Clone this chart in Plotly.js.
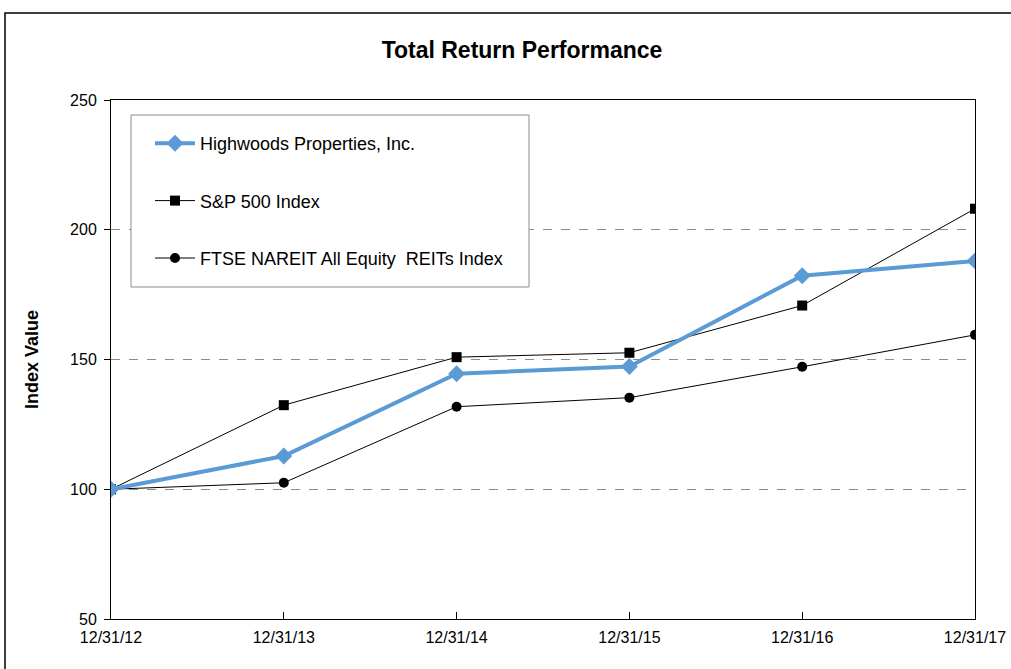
<!DOCTYPE html>
<html>
<head>
<meta charset="utf-8">
<script src="https://cdn.plot.ly/plotly-3.0.1.min.js"></script>
<style>html,body{margin:0;padding:0;background:#fff;}#chart{width:1011px;height:669px;}</style>
</head>
<body>
<div id="chart"></div>
<script>
var dates = ["12/31/12", "12/31/13", "12/31/14", "12/31/15", "12/31/16", "12/31/17"];
var highwoods = [100, 112.8, 144.5, 147.3, 182.3, 188.0];
var sp500 = [100, 132.4, 150.9, 152.6, 170.8, 208.1];
var ftse = [100, 102.5, 131.8, 135.3, 147.2, 159.5];
var seriesNames = ["Highwoods Properties, Inc.", "S&P 500 Index", "FTSE NAREIT All Equity  REITs Index"];
var yTicks = [50, 100, 150, 200, 250];

var FONT = "Liberation Sans, Arial, sans-serif";

var traces = [
  {x: dates, y: sp500, name: seriesNames[1], type: "scatter", mode: "lines+markers",
   line: {color: "#000000", width: 1}, marker: {symbol: "square", size: 10, color: "#000000"},
   legendgroup: "b", legendrank: 2},
  {x: dates, y: ftse, name: seriesNames[2], type: "scatter", mode: "lines+markers",
   line: {color: "#000000", width: 1}, marker: {symbol: "circle", size: 10, color: "#000000"},
   legendgroup: "c", legendrank: 3},
  {x: dates, y: highwoods, name: seriesNames[0], type: "scatter", mode: "lines+markers",
   line: {color: "#5B9BD5", width: 4}, marker: {symbol: "diamond", size: 13, color: "#5B9BD5"},
   legendgroup: "a", legendrank: 1}
];

var layout = {
  width: 1011, height: 669,
  margin: {l: 111, r: 36, t: 100, b: 50},
  paper_bgcolor: "#ffffff", plot_bgcolor: "#ffffff",
  font: {family: FONT, color: "#000000", size: 16},
  title: {text: "<b>Total Return Performance</b>", font: {family: FONT, size: 23, color: "#000000"},
          x: 522/1011, xanchor: "center", y: 1 - 50/669, yanchor: "middle", xref: "container", yref: "container"},
  xaxis: {type: "category", range: [0, 5], showline: true, linecolor: "#000000", linewidth: 1, mirror: true,
          ticks: "inside", ticklen: 7, tickcolor: "#000000", showgrid: false, zeroline: false, ticklabelstandoff: 4,
          tickfont: {family: FONT, size: 16, color: "#000000"}, fixedrange: true},
  yaxis: {range: [50, 250], tickvals: yTicks, showline: true, linecolor: "#000000", linewidth: 1, mirror: true,
          ticks: "outside", ticklen: 6, tickcolor: "#000000", ticklabelstandoff: 4,
          showgrid: true, gridcolor: "#8c8c8c", gridwidth: 1, griddash: "dash", zeroline: false,
          tickfont: {family: FONT, size: 16, color: "#000000"},
          title: {text: "<b>Index Value</b>", font: {family: FONT, size: 18, color: "#000000"}, standoff: 26},
          automargin: false},
  showlegend: true,
  legend: {x: (150-111)/864, y: (619-125)/519, xanchor: "left", yanchor: "top",
           bgcolor: "rgba(0,0,0,0)", borderwidth: 0,
           font: {family: FONT, size: 18, color: "#000000"},
           traceorder: "grouped", tracegroupgap: 31, itemwidth: 40},
  shapes: [
    {type: "rect", xref: "paper", yref: "paper", x0: (5-111)/864, x1: (1013-111)/864,
     y0: (619-671)/519, y1: (619-13)/519, line: {color: "#000000", width: 1.5}, layer: "below"},
    {type: "rect", xref: "paper", yref: "paper", x0: (131-111)/864, x1: (529-111)/864,
     y0: (619-287)/519, y1: (619-115)/519, line: {color: "#8c8c8c", width: 1}, fillcolor: "#ffffff", layer: "above"}
  ]
};

Plotly.newPlot("chart", traces, layout, {displayModeBar: false, staticPlot: true});
</script>
</body>
</html>
